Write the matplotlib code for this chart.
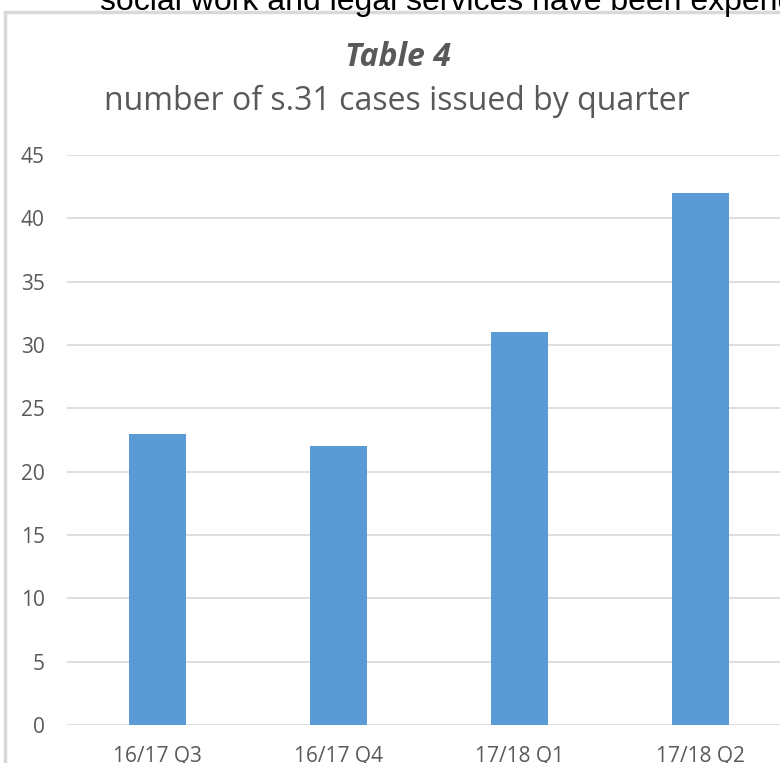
import matplotlib.pyplot as plt
from matplotlib.patches import Rectangle

quarters = ["16/17 Q3", "16/17 Q4", "17/18 Q1", "17/18 Q2"]
cases = [23, 22, 31, 42]
y_ticks = [0, 5, 10, 15, 20, 25, 30, 35, 40, 45]

W, H = 780, 763
fig = plt.figure(figsize=(W / 100, H / 100), dpi=100)
fig.patch.set_facecolor("white")

grey = "#595959"

# chart area border (runs off the right and bottom edges)
fig.add_artist(Rectangle((5 / W, -0.1), 1.2, (763 - 12) / H + 0.1,
                         transform=fig.transFigure, fill=False,
                         edgecolor="#d9d9d9", lw=2.5))

# plot area; extends a little past the right edge of the figure
left, right = 67 / W, 791 / W
bottom, top = 38 / H, (763 - 155) / H
ax = fig.add_axes([left, bottom, right - left, top - bottom])

x = range(len(quarters))
ax.bar(x, cases, width=0.31, color="#5b9bd5", zorder=3)
ax.set_xlim(-0.5, len(quarters) - 0.5)
ax.set_ylim(0, 45)
ax.set_yticks(y_ticks)
ax.set_xticks(list(x))
ax.set_xticklabels(quarters)
ax.grid(axis="y", color="#d9d9d9", lw=1.2, zorder=0)
for s in ax.spines.values():
    s.set_visible(False)
ax.tick_params(length=0, colors=grey, labelsize=15)
ax.tick_params(axis="y", pad=16)
ax.tick_params(axis="x", pad=15)
for lab in ax.get_xticklabels() + ax.get_yticklabels():
    lab.set_fontfamily("Open Sans")

# titles
fig.text(398 / W, 1 - 58 / H, "Table 4", ha="center", va="center",
         fontsize=23, fontweight="bold", fontstyle="italic", color=grey,
         family="Open Sans")
fig.text(397 / W, 1 - 101 / H, "number of s.31 cases issued by quarter",
         ha="center", va="center", fontsize=23, color=grey, family="Open Sans")

# body text line above the chart, cut off at the top
fig.text(100 / W, 1 - 10 / H, "social work and legal services have been expended",
         ha="left", va="baseline", fontsize=23, color="black",
         family="Liberation Sans")

fig.savefig("out.png", dpi=100)
